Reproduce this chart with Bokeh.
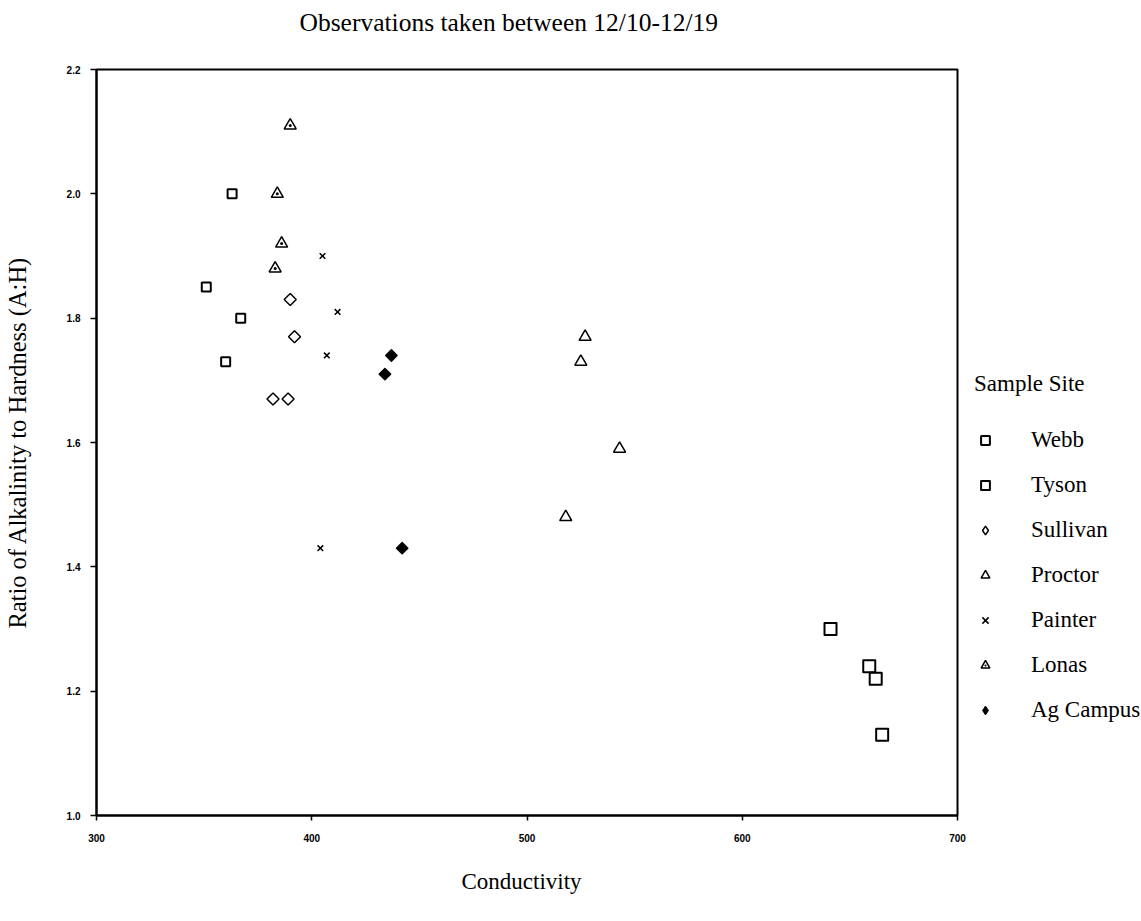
import math
from bokeh.plotting import figure
from bokeh.models import (Legend, LegendItem, Title, FixedTicker, CustomJSTickFormatter,
                          LinearAxis)
from bokeh.embed import file_html
from bokeh.resources import INLINE

# ---- data ----
webb_x = [363, 351, 367, 360]
webb_y = [2.00, 1.85, 1.80, 1.73]
tyson_x = [641, 659, 662, 665]
tyson_y = [1.30, 1.24, 1.22, 1.13]
sullivan_x = [390, 392, 382, 389]
sullivan_y = [1.83, 1.77, 1.67, 1.67]
proctor_x = [527, 525, 543, 518]
proctor_y = [1.77, 1.73, 1.59, 1.48]
painter_x = [405, 412, 407, 404]
painter_y = [1.90, 1.81, 1.74, 1.43]
lonas_x = [390, 384, 386, 383]
lonas_y = [2.11, 2.00, 1.92, 1.88]
ag_x = [437, 434, 442]
ag_y = [1.74, 1.71, 1.43]

site_names = ["Webb", "Tyson", "Sullivan", "Proctor", "Painter", "Lonas", "Ag Campus"]
x_ticks = [300, 400, 500, 600, 700]
y_ticks = [1.0, 1.2, 1.4, 1.6, 1.8, 2.0, 2.2]

SERIF = "Liberation Serif"
FS = "23px"

p = figure(
    frame_width=861, frame_height=746,
    x_range=(300, 700), y_range=(1.0, 2.2),
    output_backend="svg", toolbar_location=None,
    min_border_left=89, min_border_top=69, min_border_right=175, min_border_bottom=93,
)
p.background_fill_color = "white"
p.border_fill_color = "white"
p.outline_line_color = "black"
p.outline_line_width = 2
p.xgrid.visible = False
p.ygrid.visible = False

xaxis = p.below[0]
yaxis = p.left[0]

# invisible spacer between the frame and the title
spacer = LinearAxis(ticker=FixedTicker(ticks=[500]), axis_line_color=None,
                    major_tick_line_color=None, minor_tick_line_color=None,
                    major_tick_out=31, major_tick_in=0, minor_tick_out=0,
                    major_label_standoff=0, major_label_text_color=None,
                    major_label_text_font_size="1px")
p.add_layout(spacer, "above")

# title
p.title.text = "Observations taken between 12/10-12/19"
p.title.text_font = SERIF
p.title.text_font_size = "25.5px"
p.title.text_font_style = "normal"
p.title.text_color = "black"
p.title.align = "left"
p.title.offset = 203
p.title.standoff = 4

for ax in (xaxis, yaxis):
    ax.axis_line_color = "black"
    ax.axis_line_width = 2
    ax.major_tick_line_color = "black"
    ax.major_tick_line_width = 1.5
    ax.minor_tick_line_color = None
    ax.major_tick_in = 0
    ax.major_label_text_font = "Liberation Sans"
    ax.major_label_text_font_style = "bold"
    ax.major_label_text_font_size = "10px"
    ax.major_label_text_color = "black"

xaxis.ticker = FixedTicker(ticks=x_ticks)
yaxis.ticker = FixedTicker(ticks=y_ticks)
xaxis.major_tick_out = 5
yaxis.major_tick_out = 6
xaxis.major_label_standoff = 13
yaxis.major_label_standoff = 10
yaxis.formatter = CustomJSTickFormatter(code="return tick.toFixed(1);")

yaxis.axis_label = "Ratio of Alkalinity to Hardness (A:H)"
yaxis.axis_label_text_font = SERIF
yaxis.axis_label_text_font_style = "normal"
yaxis.axis_label_text_font_size = "24.5px"
yaxis.axis_label_text_color = "black"
yaxis.axis_label_standoff = 33

xt = Title(text="Conductivity", text_font=SERIF, text_font_size=FS, text_color="black",
           text_font_style="normal", align="left", offset=365, standoff=44)
p.add_layout(xt, "below")

r_webb = p.scatter(webb_x, webb_y, marker="square", size=9, fill_color=None,
                   line_color="black", line_width=2)
r_tyson = p.scatter(tyson_x, tyson_y, marker="square", size=12, fill_color=None,
                    line_color="black", line_width=2, line_join="round")
r_sull = p.scatter(sullivan_x, sullivan_y, marker="square", size=8.5, angle=math.pi / 4,
                   fill_color=None, line_color="black", line_width=1.5)
r_proc = p.scatter(proctor_x, proctor_y, marker="triangle", size=12, fill_color=None,
                   line_color="black", line_width=1.5)
r_paint = p.scatter(painter_x, painter_y, marker="x", size=8,
                    line_color="black", line_width=1.5)
r_lonas = p.scatter(lonas_x, lonas_y, marker="triangle_dot", size=12, fill_color=None,
                    line_color="black", line_width=1.5)
r_ag = p.scatter(ag_x, ag_y, marker="square", size=8, angle=math.pi / 4, fill_color="black",
                 line_color="black", line_width=1.5, line_join="round")

# legend-only glyphs (hidden) so the legend shows upright diamonds
r_sull_key = p.scatter(sullivan_x, sullivan_y, marker="diamond", size=13, fill_color=None,
                       line_color="black", line_width=1.5, visible=False)
r_ag_key = p.scatter(ag_x, ag_y, marker="diamond", size=13, fill_color="black",
                     line_color="black", line_width=1, visible=False)

renderers = [r_webb, r_tyson, r_sull_key, r_proc, r_paint, r_lonas, r_ag_key]
legend = Legend(items=[LegendItem(label=n, renderers=[r]) for n, r in zip(site_names, renderers)])
legend.title = "Sample Site"
legend.title_text_font = SERIF
legend.title_text_font_size = FS
legend.title_text_font_style = "normal"
legend.title_text_color = "black"
legend.title_standoff = 30
legend.label_text_font = SERIF
legend.label_text_font_size = FS
legend.label_text_color = "black"
legend.glyph_width = 22
legend.glyph_height = 22
legend.label_height = 20
legend.label_standoff = 35
legend.spacing = 19
legend.padding = 0
legend.margin = 0
legend.border_line_color = None
legend.background_fill_alpha = 0
legend.location = (17, 92)
p.add_layout(legend, "right")

open("out.html", "w").write(file_html(p, INLINE))
